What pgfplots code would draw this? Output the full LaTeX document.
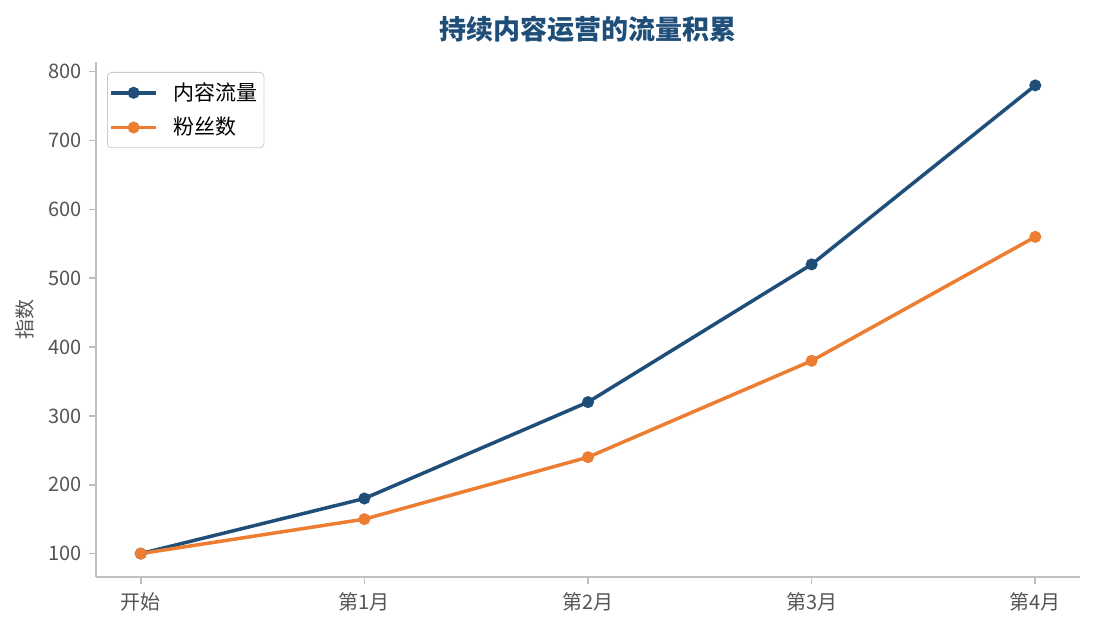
\documentclass[border=0pt]{standalone}
\usepackage{fontspec}
\setmainfont{Noto Sans CJK SC}
\usepackage{pgfplots}
\pgfplotsset{compat=1.18}
\definecolor{cblue}{HTML}{1F4E79}
\definecolor{corange}{HTML}{ED7D31}
\definecolor{tickgray}{HTML}{555555}
\definecolor{spinegray}{HTML}{BFBFBF}
\begin{document}
\begin{tikzpicture}
\useasboundingbox (0,0) rectangle (547.5pt,315pt);
\begin{axis}[
  at={(48pt,26.5pt)}, anchor=south west,
  scale only axis, width=492pt, height=257.5pt,
  xmin=-0.2, xmax=4.2, ymin=66, ymax=814,
  axis lines*=left,
  axis line style={spinegray, line width=0.8pt, -},
  xtick={0,...,4},
  xticklabels={开始,第1月,第2月,第3月,第4月},
  ytick={100,200,...,800},
  tick align=outside, major tick length=3.5pt,
  tick style={spinegray, line width=0.8pt},
  /pgf/number format/assume math mode=true,
  tick label style={font=\fontsize{10}{12}\selectfont, text=tickgray},
  xticklabel style={yshift=-1pt},
  ylabel={指数},
  ylabel style={font=\fontsize{10}{12}\selectfont, text=tickgray,
    at={(axis description cs:0,0.5)}, anchor=center, yshift=35.5pt},
  title={持续内容运营的流量积累},
  title style={font=\fontsize{13.5}{16}\selectfont\bfseries, text=cblue,
    at={(0.5,1)}, anchor=center, yshift=10.5pt},
  legend style={at={(0,1)}, anchor=north west, xshift=5.5pt, yshift=-5pt,
    draw=spinegray!80, rounded corners=2pt,
    font=\fontsize{10.5}{12}\selectfont, inner xsep=1pt, inner ysep=3pt,
    row sep=3pt, column sep=6pt},
  legend cell align=left,
  legend image code/.code={\draw[mark repeat=2,mark phase=2]
    plot coordinates {(0pt,0pt)(11.25pt,0pt)(22.5pt,0pt)};},
]
\addplot[cblue, line width=1.75pt, mark=*, mark size=2.7pt,
  mark options={line width=0.6pt}]
  coordinates {(0,100)(1,180)(2,320)(3,520)(4,780)};
\addlegendentry{内容流量}
\addplot[corange, line width=1.75pt, mark=*, mark size=2.7pt,
  mark options={line width=0.6pt}]
  coordinates {(0,100)(1,150)(2,240)(3,380)(4,560)};
\addlegendentry{粉丝数}
\end{axis}
\end{tikzpicture}
\end{document}
